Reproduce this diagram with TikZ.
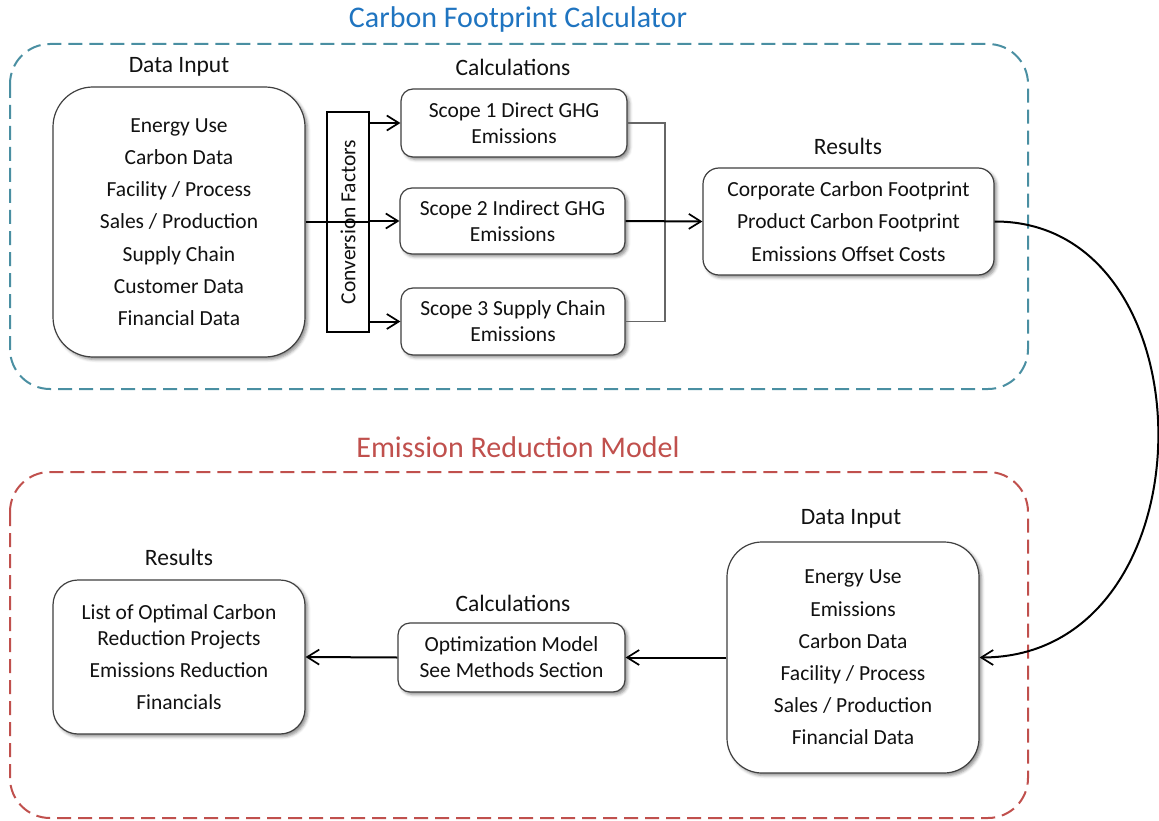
\documentclass[tikz,border=0pt]{standalone}
\usepackage{fontspec}
\setmainfont{Carlito}
\usetikzlibrary{arrows.meta,shadows.blur}
\definecolor{tealA}{HTML}{4A8FA2}
\definecolor{redA}{HTML}{C0504D}
\definecolor{blueA}{HTML}{1F74C0}
\definecolor{txt}{HTML}{111111}
\begin{document}
\begin{tikzpicture}[x=1pt,y=-1pt,
  every node/.style={text=txt, font=\fontsize{21.5}{32.2}\selectfont},
  box/.style={draw=black!75, line width=1.2pt, fill=white, align=center, inner sep=0pt,
    blur shadow={shadow xshift=2.5pt, shadow yshift=-2.5pt, shadow blur radius=3pt, shadow opacity=45}},
  smallbox/.style={box, font=\fontsize{21.5}{26}\selectfont, rounded corners=12pt},
  head/.style={font=\fontsize{23.5}{28}\selectfont},
  title/.style={font=\fontsize{30}{36}\selectfont},
  arr/.style={line width=2pt, draw=black, -{Straight Barb[length=12pt,width=15pt,line width=1.7pt]}},
  thin/.style={line width=1.1pt, draw=black!60},
  frame/.style={line width=2pt, dash pattern=on 14pt off 7pt, rounded corners=40pt}
]
\useasboundingbox (0,0) rectangle (1159,821);

% frames
\draw[frame, tealA] (10,44) rectangle (1028,389);
\draw[frame, redA] (10,472) rectangle (1028,818);
\node[title, text=blueA] (t1) at (518,20) {Carbon Footprint Calculator};
\node[title, text=redA] (t2) at (518,447) {Emission Reduction Model};

% top row
\node[box, rounded corners=40pt, minimum width=252pt, minimum height=270pt] (di) at (179,222)
  {Energy Use\\Carbon Data\\Facility / Process\\Sales / Production\\Supply Chain\\Customer Data\\Financial Data};
\node[head] (hdi) at (179,67) {Data Input};

\node[draw=black, line width=1.2pt, fill=white, rotate=90, inner sep=0pt,
      minimum width=220pt, minimum height=42pt] (conv) at (348,222) {Conversion Factors};

\node[smallbox, minimum width=226pt, minimum height=68pt] (s1) at (514,123) {Scope 1 Direct GHG\\Emissions};
\node[smallbox, minimum width=225pt, minimum height=66pt] (s2) at (512.5,221) {Scope 2 Indirect GHG\\Emissions};
\node[smallbox, minimum width=224pt, minimum height=67pt] (s3) at (513,321.5) {Scope 3 Supply Chain\\Emissions};
\node[head] (hcalc) at (513,67) {Calculations};

\node[box, rounded corners=16pt, minimum width=291pt, minimum height=107pt] (res) at (848.5,221.5)
  {Corporate Carbon Footprint\\Product Carbon Footprint\\Emissions Offset Costs};
\node[head] (hres) at (848,146) {Results};

% top connectors
\coordinate (j) at (665,222);
\draw[line width=2pt] (di.east) -- (di.east -| conv.south);
\draw[arr] (conv.south |- s1.west) -- (s1.west);
\draw[arr] (conv.south |- s2.west) -- (s2.west);
\draw[arr] (conv.south |- s3.west) -- (s3.west);
\draw[thin] (s1.east) -- (s1.east -| j) -- (s3.east -| j) -- (s3.east);
\draw[arr] (s2.east) -- (res.west);

% bottom row
\node[box, rounded corners=35pt, minimum width=252pt, minimum height=231pt] (di2) at (853,657.5)
  {Energy Use\\Emissions\\Carbon Data\\Facility / Process\\Sales / Production\\Financial Data};
\node[head] (hdi2) at (851,519) {Data Input};

\node[smallbox, minimum width=227pt, minimum height=69pt] (calc) at (511.5,657.5)
  {Optimization Model\\See Methods Section};
\node[head] (hcalc2) at (513,603) {Calculations};

\node[box, rounded corners=25pt, minimum width=252pt, minimum height=154pt,
      font=\fontsize{21.5}{26}\selectfont] (res2) at (179,657)
  {List of Optimal Carbon\\Reduction Projects\\[6pt]Emissions Reduction\\[6pt]Financials};
\node[head] (hres2) at (179,557) {Results};

% bottom connectors
\draw[arr] (di2.west) -- (calc.east);
\draw[arr] (calc.west) -- (res2.east);

% loop
\draw[arr] (res.east) .. controls (1215,221) and (1215,657.5) .. (di2.east);
\end{tikzpicture}
\end{document}
